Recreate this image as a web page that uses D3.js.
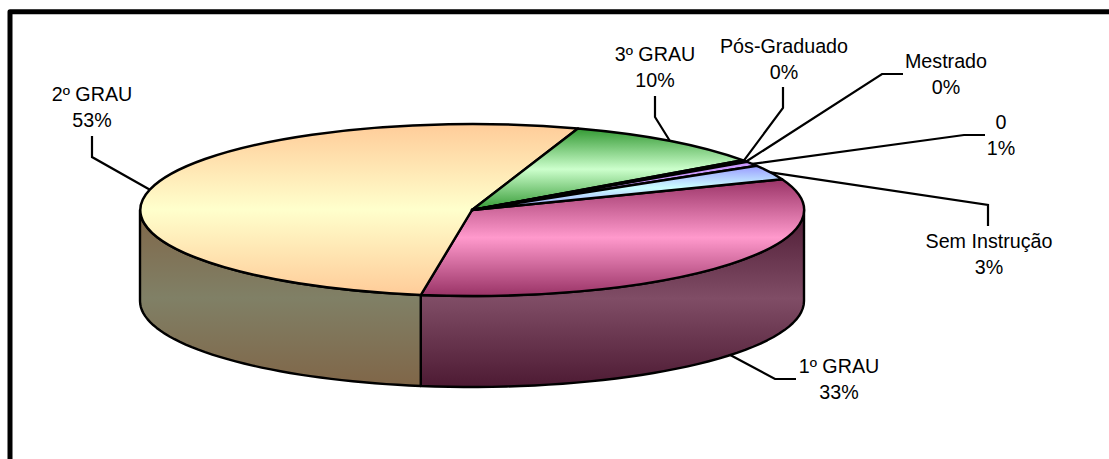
<!DOCTYPE html>
<html><head><meta charset="utf-8">
<script src="https://cdn.jsdelivr.net/npm/d3@7/dist/d3.min.js"></script>
<style>html,body{margin:0;padding:0;background:#fff}svg{display:block}text{font-family:"Liberation Sans",Arial,sans-serif;font-size:19.7px;fill:#000;text-anchor:middle}</style>
</head><body><svg id="c" width="1109" height="459"></svg>
<script>
const categories = ["1º GRAU","2º GRAU","3º GRAU","Pós-Graduado","Mestrado","0","Sem Instrução"];
const shares = [33.3,52.7,10,0.2,0.2,0.85,2.75];
const topEdge = ["#993366","#FFCC99","#339933","#9966CC","#9966CC","#CC99FF","#9999FF"];
const topMid  = ["#FF99CC","#FFFFCC","#CCFFCC","#CC99FF","#CC99FF","#CC99FF","#CCFFFF"];
const sideEdge = ["#4D1A33","#806648"];
const sideMid  = ["#804D66","#808066"];
// label layout: [elbow x, elbow y, end x, end y, text x, first baseline y]
const labelLayout = [
  [775,379,796,379,839,373],
  [92,157,92,136,92,101],
  [655,117,655,96,655,61],
  [783,108,783,87,784,53],
  [882,74,903,74,946,68],
  [964,135,985,135,1001,129],
  [988,205,988,226,989,248]
];
const cx=472, cy=210, rx=332, ry=86, depth=91, lineGap=25.5;
const deg=Math.PI/180;
const svg=d3.select("#c");
const defs=svg.append("defs");
function grad(id,e,m){
  const g=defs.append("linearGradient").attr("id",id).attr("x1",0).attr("y1",0).attr("x2",0).attr("y2",1);
  g.append("stop").attr("offset","0%").attr("stop-color",e);
  g.append("stop").attr("offset","50%").attr("stop-color",m);
  g.append("stop").attr("offset","100%").attr("stop-color",e);
}
categories.forEach((c,i)=>grad("t"+i,topEdge[i],topMid[i]));
sideEdge.forEach((c,i)=>grad("s"+i,c,sideMid[i]));

const arcs=d3.pie().sort(null).startAngle(69*deg).endAngle(429*deg)(shares);
const px=a=>cx+rx*Math.sin(a), py=a=>cy-ry*Math.cos(a);

// frame
svg.append("path").attr("d","M10,459V11.7H1109").attr("fill","none").attr("stroke","#000").attr("stroke-width",5).attr("stroke-linejoin","round");

// leaders
const line=d3.line();
arcs.forEach((d,i)=>{
  const m=(d.startAngle+d.endAngle)/2, L=labelLayout[i];
  const p=[px(m),py(m)+(i===0?depth:0)];
  svg.append("path").attr("d",line([p,[L[0],L[1]],[L[2],L[3]]])).attr("fill","none").attr("stroke","#000").attr("stroke-width",2.2);
  const t=svg.append("text").attr("x",L[4]).attr("y",L[5]);
  t.append("tspan").attr("x",L[4]).text(categories[i]);
  t.append("tspan").attr("x",L[4]).attr("dy",lineGap).text(d3.format(".0f")(shares[i])+"%");
});

// walls (front half only)
[[0,Math.PI/2,arcs[0].endAngle],[1,arcs[1].startAngle,Math.PI*1.5]].forEach(([i,a0,a1])=>{
  const angs=d3.range(0,41).map(k=>a0+(a1-a0)*k/40);
  const upper=angs.map(a=>[px(a),py(a)]);
  const lower=angs.slice().reverse().map(a=>[px(a),py(a)+depth]);
  svg.append("path").attr("d",line(upper.concat(lower))+"Z").attr("fill",`url(#s${i})`).attr("stroke","#000").attr("stroke-width",2.4).attr("stroke-linejoin","round");
});

// top faces
const arc=d3.arc().innerRadius(0).outerRadius(1);
svg.append("g").attr("transform",`translate(${cx},${cy}) scale(${rx},${ry})`)
  .selectAll("path").data(arcs).join("path")
  .attr("d",arc).attr("fill",(d,i)=>`url(#t${i})`)
  .attr("stroke","#000").attr("stroke-width",2.4).attr("vector-effect","non-scaling-stroke").attr("stroke-linejoin","round");
</script></body></html>
